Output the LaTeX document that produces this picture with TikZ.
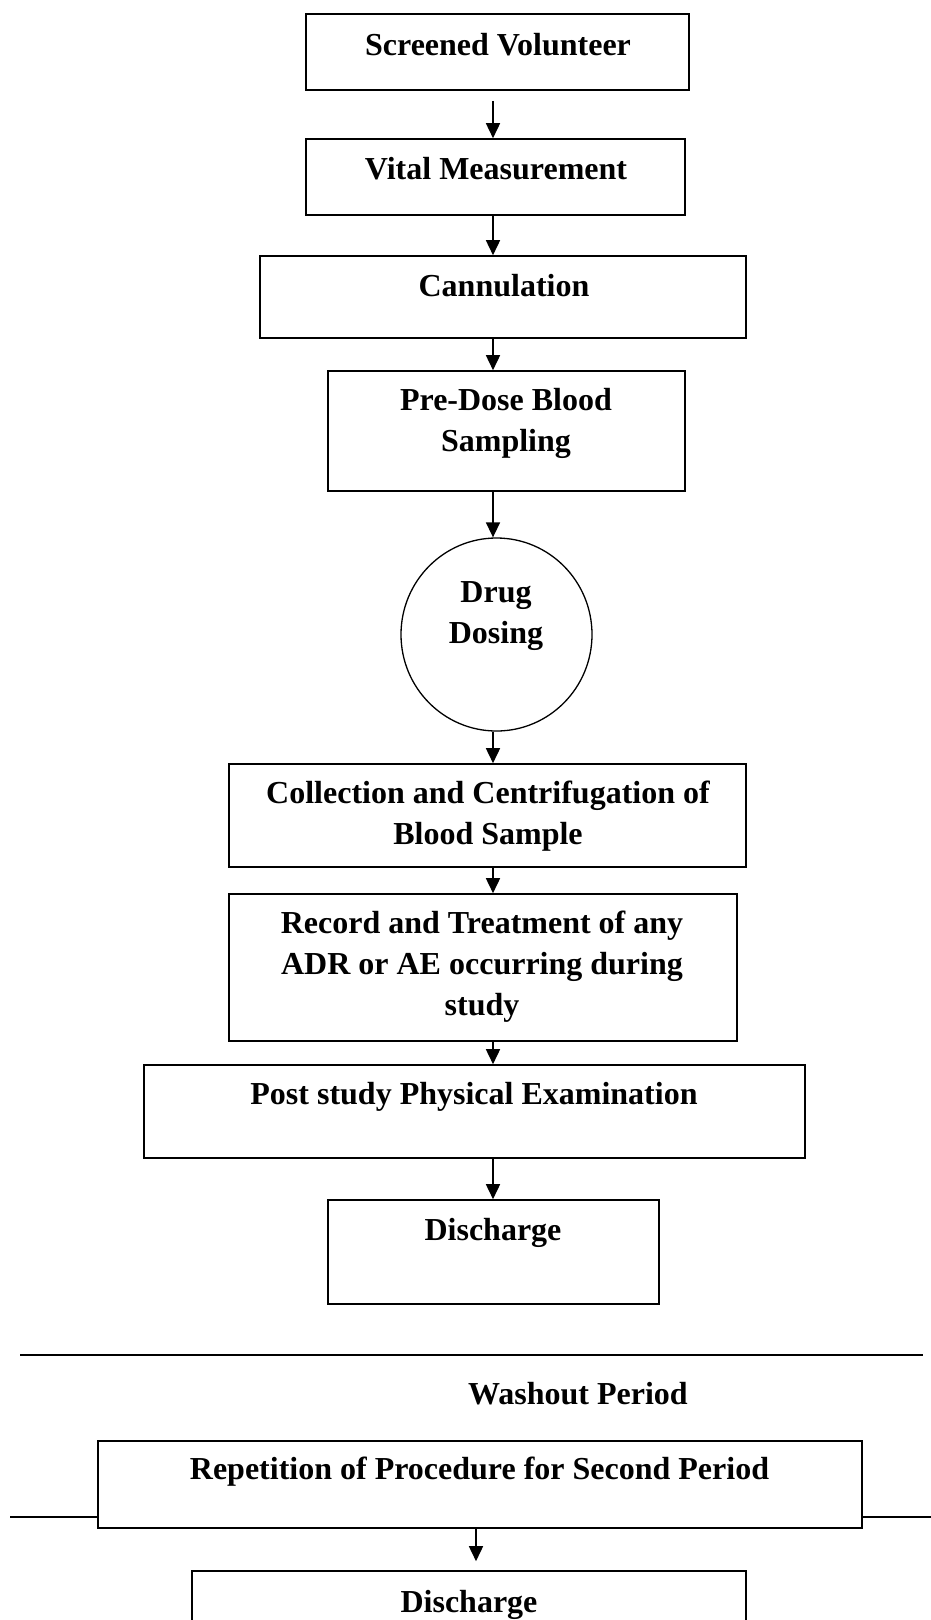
\documentclass[tikz,border=0pt]{standalone}
\usepackage{fontspec}
\setmainfont{Liberation Serif}
\usetikzlibrary{arrows.meta,shapes.geometric}
\tikzset{
  box/.style={draw, line width=1.6pt, rectangle, inner sep=0pt, fill=white},
  oval/.style={draw, line width=1.3pt, ellipse, inner sep=0pt},
  lbl/.style={font=\bfseries\fontsize{32}{41}\selectfont, align=center, inner sep=0pt},
  arr/.style={line width=1.6pt, -{Triangle[length=15pt,width=14pt]}},
  rule/.style={line width=1.6pt},
}
\begin{document}
\begin{tikzpicture}[x=1pt,y=-1pt]
\clip (0,0) rectangle (931,1620);
\fill[white] (0,0) rectangle (931,1620);
\coordinate (ax) at (493,0);
\coordinate (bx) at (476,0);
% boxes
\node[box, minimum width=383pt, minimum height=76pt] (b1) at (497.5,52) {};
\node[box, minimum width=379pt, minimum height=76pt] (b2) at (495.5,177) {};
\node[box, minimum width=486pt, minimum height=82pt] (b3) at (503,297) {};
\node[box, minimum width=357pt, minimum height=120pt] (b4) at (506.5,431) {};
\node[oval, minimum width=191pt, minimum height=193pt] (e5) at (496.5,634.5) {};
\node[box, minimum width=517pt, minimum height=103pt] (b6) at (487.5,815.5) {};
\node[box, minimum width=508pt, minimum height=147pt] (b7) at (483,967.5) {};
\node[box, minimum width=661pt, minimum height=93pt] (b8) at (474.5,1111.5) {};
\node[box, minimum width=331pt, minimum height=104pt] (b9) at (493.5,1252) {};
% rules
\coordinate (r1a) at (20,1355);
\coordinate (r1b) at (923,1355);
\coordinate (r2a) at (10,1517);
\coordinate (r2b) at (931,1517);
\draw[rule] (r1a) -- (r1b);
\draw[rule] (r2a) -- (r2b);
\node[box, minimum width=764pt, minimum height=87pt] (b10) at (480,1484.5) {};
\node[box, minimum width=554pt, minimum height=100pt] (b11) at (469,1621) {};
% texts
\node[lbl] (t1) at (498,45) {Screened Volunteer};
\node[lbl] (t2) at (496,169) {Vital Measurement};
\node[lbl] (t3) at (504,286) {Cannulation};
\node[lbl] (t4) at (506,423) {Pre-Dose Blood\\Sampling};
\node[lbl] (t5) at (496,616) {Drug\\Dosing};
\node[lbl] (t6) at (488,816) {Collection and Centrifugation of\\Blood Sample};
\node[lbl] (t7) at (482,967) {Record and Treatment of any\\ADR or AE occurring during\\study};
\node[lbl] (t8) at (474,1097) {Post study Physical Examination};
\node[lbl] (t9) at (493,1233) {Discharge};
\node[lbl] (t10) at (578,1394) {Washout Period};
\node[lbl] (t11) at (479.5,1471.5) {Repetition of Procedure for Second Period};
\node[lbl] (t12) at (469,1605) {Discharge};
% arrows
\draw[arr] ([yshift=-10pt]b1.south -| ax) -- (b2.north -| ax);
\draw[arr] (b2.south -| ax) -- (b3.north -| ax);
\draw[arr] (b3.south -| ax) -- (b4.north -| ax);
\draw[arr] (b4.south -| ax) -- (e5.north -| ax);
\draw[arr] (e5.south -| ax) -- (b6.north -| ax);
\draw[arr] (b6.south -| ax) -- (b7.north -| ax);
\draw[arr] (b7.south -| ax) -- (b8.north -| ax);
\draw[arr] (b8.south -| ax) -- (b9.north -| ax);
\draw[arr] (b10.south -| bx) -- ([yshift=9pt]b11.north -| bx);
\end{tikzpicture}
\end{document}
